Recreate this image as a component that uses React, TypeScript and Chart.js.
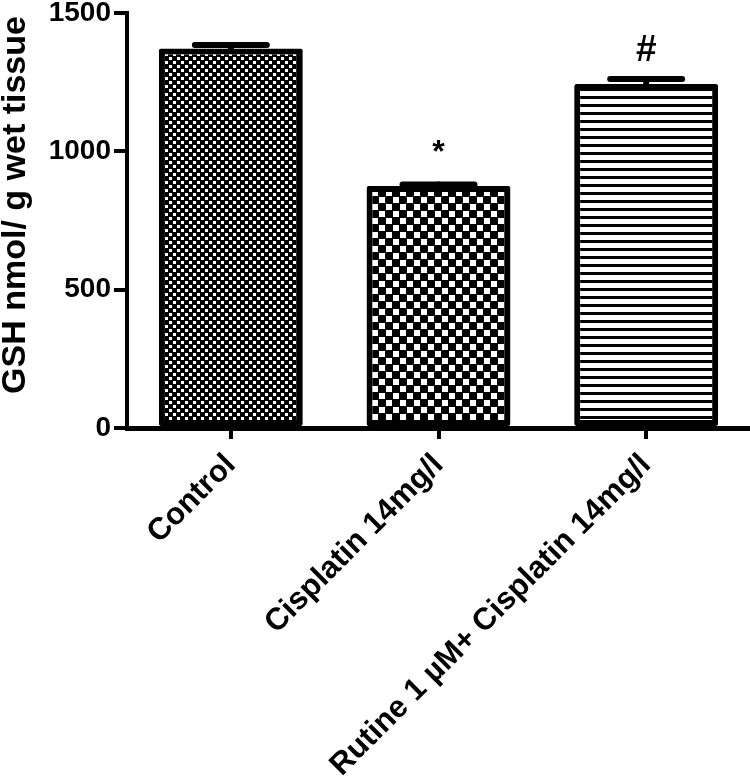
import React, { useEffect, useRef } from "react";
import { Chart, registerables } from "chart.js";

Chart.register(...registerables);

const categories = ["Control", "Cisplatin 14mg/l", "Rutine 1 µM+ Cisplatin 14mg/l"];
const means = [1372, 875, 1243];
const sems = [12, 5, 18];
const marks = ["", "*", "#"];
const yTicks = [0, 500, 1000, 1500];
const yTitle = "GSH nmol/ g wet tissue";

const FONT = "'Liberation Sans', Arial, Helvetica, sans-serif";

function makePattern(kind: string): CanvasPattern | string {
  const c = document.createElement("canvas");
  const ctx = c.getContext("2d");
  if (!ctx) return "#000";
  if (kind === "fine") {
    c.width = 8; c.height = 8;
    ctx.fillStyle = "#000"; ctx.fillRect(0, 0, 8, 8);
    ctx.fillStyle = "#fff";
    ctx.fillRect(1, 1, 3, 3);
    ctx.fillRect(5, 5, 3, 3);
  } else if (kind === "checker") {
    c.width = 14; c.height = 14;
    ctx.fillStyle = "#000"; ctx.fillRect(0, 0, 14, 14);
    ctx.fillStyle = "#fff";
    ctx.fillRect(1, 1, 6, 6);
    ctx.fillRect(8, 8, 6, 6);
  } else {
    c.width = 8; c.height = 8;
    ctx.fillStyle = "#fff"; ctx.fillRect(0, 0, 8, 8);
    ctx.fillStyle = "#000"; ctx.fillRect(0, 0, 8, 3);
  }
  const p = (document.createElement("canvas").getContext("2d") as CanvasRenderingContext2D).createPattern(c, "repeat");
  return p || "#000";
}

const errorBarPlugin = {
  id: "errorBars",
  afterDatasetsDraw(chart: any) {
    const ctx = chart.ctx;
    const meta = chart.getDatasetMeta(0);
    const y = chart.scales.y;
    ctx.save();
    meta.data.forEach((bar: any, i: number) => {
      const x = bar.x;
      const top = y.getPixelForValue(means[i] + sems[i]);
      const half = bar.width * 0.25;
      ctx.strokeStyle = "#000";
      ctx.lineWidth = 6;
      ctx.lineCap = "round";
      ctx.beginPath();
      ctx.moveTo(x, bar.y);
      ctx.lineTo(x, top);
      ctx.stroke();
      ctx.beginPath();
      ctx.moveTo(x - half, top);
      ctx.lineTo(x + half, top);
      ctx.stroke();
      if (marks[i]) {
        const isStar = marks[i] === "*";
        ctx.fillStyle = "#000";
        ctx.textAlign = "center";
        ctx.textBaseline = "alphabetic";
        ctx.font = isStar ? `bold 32px ${FONT}` : `bold 37px ${FONT}`;
        ctx.fillText(marks[i], x, top - (isStar ? 23 : 18));
      }
    });
    ctx.restore();
  },
  afterDraw(chart: any) {
    const ctx = chart.ctx;
    ctx.save();
    ctx.translate(16, 205);
    ctx.rotate(-Math.PI / 2);
    ctx.fillStyle = "#000";
    ctx.font = `bold 34px ${FONT}`;
    ctx.textAlign = "center";
    ctx.textBaseline = "middle";
    ctx.fillText(yTitle, 0, 0);
    ctx.restore();
  },
};

export default function App() {
  const ref = useRef<HTMLCanvasElement>(null);
  useEffect(() => {
    document.body.style.margin = "0";
    const canvas = ref.current;
    if (!canvas) return;
    const patterns = [makePattern("fine"), makePattern("checker"), makePattern("stripes")];
    const chart = new Chart(canvas, {
      type: "bar",
      data: {
        labels: categories,
        datasets: [
          {
            data: means,
            backgroundColor: patterns as any,
            borderColor: "#000",
            borderWidth: 6,
            borderSkipped: false,
            borderRadius: 2,
            barPercentage: 0.693,
            categoryPercentage: 1,
          },
        ],
      },
      options: {
        animation: false,
        responsive: false,
        maintainAspectRatio: false,
        layout: { padding: { top: 13, left: 0, right: 0, bottom: 0 } },
        plugins: { legend: { display: false }, tooltip: { enabled: false } },
        scales: {
          x: {
            offset: true,
            grid: {
              offset: false,
              drawOnChartArea: false,
              drawTicks: true,
              tickLength: 11,
              color: "#000",
              lineWidth: 4,
            },
            border: { display: true, color: "#000", width: 5 },
            ticks: {
              autoSkip: false,
              maxRotation: 45,
              minRotation: 45,
              padding: 8,
              color: "#000",
              font: { family: FONT, size: 31, weight: "bold" },
            },
            afterFit(scale: any) {
              scale.height = 352;
              scale.paddingLeft = 0;
              scale.paddingRight = 0;
            },
          },
          y: {
            min: 0,
            max: 1500,
            afterBuildTicks(scale: any) {
              scale.ticks = yTicks.map((v) => ({ value: v }));
            },
            grid: {
              drawOnChartArea: false,
              drawTicks: true,
              tickLength: 13,
              color: "#000",
              lineWidth: 4,
            },
            border: { display: true, color: "#000", width: 4 },
            ticks: {
              padding: 3,
              color: "#000",
              font: { family: FONT, size: 28, weight: "bold" },
              callback: (v: any) => String(v),
            },
            afterFit(scale: any) {
              scale.width = 127;
              scale.paddingTop = 0;
              scale.paddingBottom = 0;
            },
          },
        },
      },
      plugins: [errorBarPlugin],
    });
    return () => chart.destroy();
  }, []);
  return (
    <div style={{ width: 750, height: 780, background: "#fff" }}>
      <canvas ref={ref} width={750} height={780} style={{ display: "block" }} />
    </div>
  );
}
